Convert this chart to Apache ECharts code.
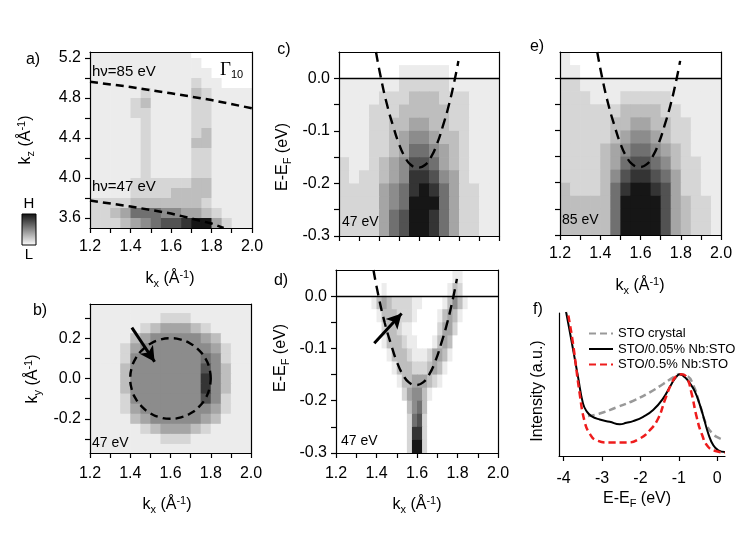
<!DOCTYPE html>
<html><head><meta charset="utf-8">
<script src="https://cdn.jsdelivr.net/npm/echarts@6/dist/echarts.min.js"></script>
<style>html,body{margin:0;padding:0;background:#fff}#c{width:747px;height:533px}</style>
</head><body><div id="c"></div>
<script>
// ---------------- data ----------------
const kx16 = [1.225,1.275,1.325,1.375,1.425,1.475,1.525,1.575,1.625,1.675,1.725,1.775,1.825,1.875,1.925,1.975];
const kx32 = [1.2125,1.2375,1.2625,1.2875,1.3125,1.3375,1.3625,1.3875,1.4125,1.4375,1.4625,1.4875,1.5125,1.5375,1.5625,1.5875,
              1.6125,1.6375,1.6625,1.6875,1.7125,1.7375,1.7625,1.7875,1.8125,1.8375,1.8625,1.8875,1.9125,1.9375,1.9625,1.9875];
const kzRowsA = [5.25,5.15,5.05,4.95,4.85,4.75,4.65,4.55,4.45,4.35,4.25,4.15,4.05,3.95,3.85,3.75,3.65,3.55];
const kyRowsB = [0.35,0.30,0.25,0.20,0.15,0.10,0.05,0.00,-0.05,-0.10,-0.15,-0.20,-0.25,-0.30,-0.35];
const eRows = [0.0375,0.0125,-0.0125,-0.0375,-0.0625,-0.0875,-0.1125,-0.1375,-0.1625,-0.1875,-0.2125,-0.2375,-0.2625,-0.2875];

// intensity levels 0 (white) .. 9 (black), one string per row, top row first
const mapA = [
 "1111111111000000","1111111111100000","1111111111110000","1111111111211000",
 "1111121111321111","1111231111221111","1111221111221111","1111121111221111",
 "1111121111231111","1111121111331111","1111121111221111","1111121111221111",
 "1111121111221111","1111222222331111","1111222233331111","2222333333321111",
 "2234666554432111","2223456778994211"];
const mapB = [
 "1111111111111111","1111111222111111","1111123444321111","1111345555543111",
 "1112455555554211","1112555555565211","1113555555575311","1113555555585311",
 "1113555555585311","1112555555575211","1112455555554211","1111345555543111",
 "1111123444321111","1111111222111111","1111111111111111"];
const mapC = [
 "0000000000000000","0000001111100000","1111112222211111","1111222333222111",
 "1112223333322111","1112233443322111","1112234554332111","1112234665432111",
 "2112345776432111","2122345887542111","2222456898642211","2222456999642211",
 "2222467998642211","2222467998642211"];
const mapD = [
 "00000000"+"00000000"+"00000001"+"10000000",
 "00000000"+"01000000"+"00000013"+"20000000",
 "00000001"+"34322221"+"10000135"+"31000000",
 "00000000"+"13332221"+"00001343"+"10000000",
 "00000000"+"02332110"+"00002442"+"00000000",
 "00000000"+"01333211"+"00013430"+"00000000",
 "00000000"+"00133321"+"11244310"+"00000000",
 "00000000"+"00013332"+"22343100"+"00000000",
 "00000000"+"00001334"+"44321000"+"00000000",
 "00000000"+"00000245"+"53100000"+"00000000",
 "00000000"+"00000035"+"63000000"+"00000000",
 "00000000"+"00000026"+"72000000"+"00000000",
 "00000000"+"00000028"+"82000000"+"00000000",
 "00000000"+"00000029"+"92000000"+"00000000"];
const mapE = [
 "1000000000000000","1100000000000000","2211111111111111","2221112222211111",
 "2222223333221111","2222233443322111","2222234554322111","2222345665432111",
 "2222346776532211","2222357887642211","3222368998742211","3333369999743221",
 "3333369999743221","3333369999743221"];

// dashed guide lines
const line85K = [1.2,1.4,1.6,1.8,2.0];
const line85Kz = [4.963,4.91,4.847,4.78,4.697];
const line47K = [1.2,1.4,1.6,1.8,1.86];
const line47Kz = [3.775,3.715,3.645,3.545,3.5];
const paraK = [1.385,1.41,1.44,1.47,1.50,1.53,1.56,1.595,1.63,1.66,1.69,1.72,1.75,1.78,1.797];
const paraE = [0.05,0.0,-0.05,-0.09,-0.125,-0.15,-0.165,-0.17,-0.165,-0.15,-0.125,-0.09,-0.05,0.0,0.033];
const circK = [1.8,1.793,1.773,1.741,1.7,1.652,1.6,1.548,1.5,1.459,1.427,1.407,1.4,1.407,1.427,1.459,1.5,1.548,1.6,1.652,1.7,1.741,1.773,1.793,1.8];
const circKy = [0,0.052,0.1,0.141,0.173,0.193,0.2,0.193,0.173,0.141,0.1,0.052,0,-0.052,-0.1,-0.141,-0.173,-0.193,-0.2,-0.193,-0.173,-0.141,-0.1,-0.052,0];
const arrowBK = [1.408,1.521], arrowBKy = [0.253,0.083];
const arrowDK = [1.389,1.524], arrowDE = [-0.09,-0.033];

// panel f spectra
const crystalE = [-3.365,-3.061,-2.626,-2.191,-1.757,-1.409,-1.148,-1.0,-0.8,-0.626,-0.452,-0.278,-0.104,0.07,0.1];
const crystalI = [0.279,0.297,0.340,0.386,0.445,0.504,0.550,0.571,0.562,0.496,0.356,0.215,0.152,0.122,0.118];
const nb005E = [-3.97,-3.93,-3.8,-3.626,-3.496,-3.391,-3.278,-3.061,-2.8,-2.539,-2.365,-2.191,-1.93,-1.67,-1.409,-1.191,-1.061,-0.974,-0.843,-0.713,-0.583,-0.452,-0.348,-0.235,-0.104,0.026,0.2];
const nb005I = [1.06,1.0,0.813,0.555,0.368,0.309,0.279,0.255,0.239,0.222,0.232,0.244,0.274,0.321,0.403,0.504,0.555,0.571,0.550,0.508,0.450,0.356,0.262,0.157,0.075,0.040,0.028];
const nb05E = [-3.92,-3.887,-3.757,-3.583,-3.452,-3.322,-3.148,-2.8,-2.365,-2.017,-1.757,-1.539,-1.365,-1.191,-1.061,-0.93,-0.8,-0.67,-0.539,-0.409,-0.235,-0.017,0.2];
const nb05I = [1.06,1.0,0.789,0.438,0.239,0.157,0.110,0.094,0.094,0.122,0.180,0.262,0.391,0.508,0.560,0.571,0.550,0.438,0.274,0.157,0.063,0.033,0.023];

// tick values
const mapXTicks = [1.2,1.3,1.4,1.5,1.6,1.7,1.8,1.9,2.0];
const mapXLabels = [1.2,1.4,1.6,1.8,2.0];
const aYTicks = [3.6,3.8,4.0,4.2,4.4,4.6,4.8,5.0,5.2];
const aYLabels = [3.6,4.0,4.4,4.8,5.2];
const bYTicks = [-0.3,-0.2,-0.1,0,0.1,0.2,0.3];
const bYLabels = [-0.2,0,0.2];
const eYTicks = [-0.3,-0.25,-0.2,-0.15,-0.1,-0.05,0];
const eYLabels = [-0.3,-0.2,-0.1,0];
const fXTicks = [-4,-3,-2,-1,0];

// ---------------- chart ----------------
const F = '"Liberation Sans", Arial, sans-serif';
const LEVELS = [255,236,214,190,165,140,112,82,52,22];
const zip = (a,b) => a.map((v,i) => [v, b[i]]);
function cells(xs, ys, rows){ const out=[]; rows.forEach((r,j)=>{ for(let i=0;i<xs.length;i++) out.push([xs[i], ys[j], +r[i]]); }); return out; }
function heat(idx, xs, ys, rows){
  const dx = xs[1]-xs[0], dy = Math.abs(ys[1]-ys[0]);
  return {type:'custom', xAxisIndex:idx, yAxisIndex:idx, z:1, silent:true, animation:false,
    encode:{x:0,y:1}, data:cells(xs,ys,rows),
    renderItem:function(params, api){
      const x=api.value(0), y=api.value(1), v=api.value(2);
      const p0=api.coord([x-dx/2, y+dy/2]), p1=api.coord([x+dx/2, y-dy/2]);
      const cs=params.coordSys;
      const rect=echarts.graphic.clipRectByRect({x:p0[0],y:p0[1],width:p1[0]-p0[0]+0.7,height:p1[1]-p0[1]+0.7},{x:cs.x,y:cs.y,width:cs.width,height:cs.height});
      if(!rect) return;
      const g=LEVELS[v];
      return {type:'rect', shape:rect, style:{fill:'rgb('+g+','+g+','+g+')'}};
    }};
}
const fmt1 = v => (+v).toFixed(1);
function xAx(g,min,max,ticks,labels,margin,f){
  return {type:'value',gridIndex:g,min,max,position:'bottom',z:10,
    axisLine:{show:true,onZero:false,lineStyle:{color:'#000',width:1.2}},
    axisTick:{show:true,inside:false,length:5,customValues:ticks,lineStyle:{color:'#000',width:1.2}},
    axisLabel:{show:labels.length>0,customValues:labels.length?labels:undefined,margin,fontSize:16,fontFamily:F,color:'#000',formatter:f||fmt1},
    splitLine:{show:false}};
}
function yAx(g,min,max,ticks,labels,f){
  return {type:'value',gridIndex:g,min,max,position:'left',z:10,
    axisLine:{show:true,onZero:false,lineStyle:{color:'#000',width:1.2}},
    axisTick:{show:ticks.length>0,inside:false,length:5,customValues:ticks.length?ticks:undefined,lineStyle:{color:'#000',width:1.2}},
    axisLabel:{show:labels.length>0,customValues:labels.length?labels:undefined,margin:9,fontSize:16,fontFamily:F,color:'#000',formatter:f||fmt1},
    splitLine:{show:false}};
}
function frameX(g){ return {type:'value',gridIndex:g,position:'top',min:0,max:1,z:10,axisLine:{show:true,onZero:false,lineStyle:{color:'#000',width:1.2}},axisTick:{show:false},axisLabel:{show:false},splitLine:{show:false}}; }
function frameY(g){ return {type:'value',gridIndex:g,position:'right',min:0,max:1,z:10,axisLine:{show:true,onZero:false,lineStyle:{color:'#000',width:1.2}},axisTick:{show:false},axisLabel:{show:false},splitLine:{show:false}}; }

const dashLine = (idx, data, extra) => Object.assign({type:'line', xAxisIndex:idx, yAxisIndex:idx, data, symbol:'none', z:3, silent:true, animation:false,
  lineStyle:{color:'#000', width:2.4, type:[8,5]}}, extra||{});
const fermi = {silent:true, symbol:'none', label:{show:false}, animation:false, lineStyle:{color:'#000', width:1.4, type:'solid'}, data:[{yAxis:0}]};
function arrow(idx, pts){
  return {type:'line', xAxisIndex:idx, yAxisIndex:idx, data:pts, symbol:'none', silent:true, z:4, animation:false, lineStyle:{opacity:0},
    markLine:{silent:true, symbol:['none','arrow'], symbolSize:[12,15], label:{show:false}, animation:false,
      lineStyle:{color:'#000', width:3, type:'solid'}, data:[[{coord:pts[0]},{coord:pts[1]}]]}};
}

const grids = [
  {left:90, top:52, width:162, height:176},
  {left:90, top:304, width:161, height:149},
  {left:339, top:52, width:160, height:184},
  {left:336, top:270, width:162, height:183},
  {left:560, top:52, width:161, height:183},
  {left:559, top:313, width:166, height:143}
];

const xAxes = [
  xAx(0,1.2,2.0,mapXTicks,mapXLabels,11),
  xAx(1,1.2,2.0,mapXTicks,mapXLabels,13),
  xAx(2,1.2,2.0,mapXTicks,[],13),
  xAx(3,1.2,2.0,mapXTicks,mapXLabels,13),
  xAx(4,1.2,2.0,mapXTicks,mapXLabels,11),
  xAx(5,-4.12,0.2,fXTicks,fXTicks,15,v=>String(Math.round(v))),
  frameX(0),frameX(1),frameX(2),frameX(3),frameX(4)
];
const yAxes = [
  yAx(0,3.5,5.26,aYTicks,aYLabels),
  yAx(1,-0.37,0.37,bYTicks,bYLabels),
  yAx(2,-0.3,0.05,eYTicks,eYLabels),
  yAx(3,-0.3,0.05,eYTicks,eYLabels),
  yAx(4,-0.3,0.05,eYTicks,[]),
  yAx(5,0,1,[],[]),
  frameY(0),frameY(1),frameY(2),frameY(3),frameY(4)
];

const spec = (name, data, color, width, type, z) => ({type:'line', name, xAxisIndex:5, yAxisIndex:5, data, symbol:'none', showSymbol:false,
  smooth:true, z, animation:false, itemStyle:{color, opacity:0}, lineStyle:{color, width, type}});

const series = [
  heat(0,kx16,kzRowsA,mapA),
  heat(1,kx16,kyRowsB,mapB),
  heat(2,kx16,eRows,mapC),
  heat(3,kx32,eRows,mapD),
  heat(4,kx16,eRows,mapE),
  dashLine(0,zip(line85K,line85Kz),{lineStyle:{color:'#000',width:2.5,type:[8,5]}}),
  dashLine(0,zip(line47K,line47Kz),{lineStyle:{color:'#000',width:2.5,type:[8,5]}}),
  dashLine(1,zip(circK,circKy),{smooth:true}),
  arrow(1,zip(arrowBK,arrowBKy)),
  dashLine(2,zip(paraK,paraE),{smooth:true,markLine:fermi,lineStyle:{color:'#000',width:2.4,type:[10,6]}}),
  dashLine(3,zip(paraK,paraE),{smooth:true,markLine:fermi,lineStyle:{color:'#000',width:2.4,type:[10,6]}}),
  arrow(3,zip(arrowDK,arrowDE)),
  dashLine(4,zip(paraK,paraE),{smooth:true,markLine:fermi,lineStyle:{color:'#000',width:2.4,type:[10,6]}}),
  spec('STO crystal', zip(crystalE,crystalI), '#999', 2.5, [7,4], 3),
  spec('STO/0.05% Nb:STO', zip(nb005E,nb005I), '#000', 2, 'solid', 4),
  spec('STO/0.5% Nb:STO', zip(nb05E,nb05I), '#ee1c1c', 2.5, [7,4], 5)
];

const R = {
  m:{fontSize:16, fontFamily:F, fill:'#000', color:'#000', lineHeight:20},
  s:{fontSize:11, fontFamily:F, fill:'#000', color:'#000', verticalAlign:'bottom', lineHeight:6},
  p:{fontSize:11, fontFamily:F, fill:'#000', color:'#000', verticalAlign:'top', lineHeight:6}
};
const kT = sub => '{m|k}{s|'+sub+'}{m| (Å}{p|-1}{m|)}';
const eT = '{m|E-E}{s|F}{m| (eV)}';
function txt(x,y,text,size,extra){ return Object.assign({type:'text', x, y, z:100, silent:true,
  style:{text, fill:'#000', font:size+'px '+F, align:'center', verticalAlign:'middle'}}, extra||{}); }
function ltxt(x,y,text,size){ return {type:'text', x, y, z:100, silent:true,
  style:{text, fill:'#000', font:size+'px '+F, align:'left', verticalAlign:'middle'}}; }
function rich(x,y,text,rot){ return {type:'text', x, y, z:100, silent:true, rotation:rot||0,
  style:{text, rich:R, fill:'#000', font:'16px '+F, align:'center', verticalAlign:'middle'}}; }

const graphics = [
  txt(33,60,'a)',16), txt(40,311,'b)',16), txt(284,50,'c)',16), txt(281,281,'d)',16), txt(537,47,'e)',16), txt(538,310,'f)',16),
  rich(26,140,kT('z'),Math.PI/2), rich(170,279,kT('x')),
  rich(33,379,kT('y'),Math.PI/2), rich(167,505,kT('x')),
  rich(283,157,eT,Math.PI/2), rich(281,358,eT,Math.PI/2), rich(417,505,kT('x')),
  rich(640,286,kT('x')),
  rich(637,499,eT), txt(538,391,'Intensity (a.u.)',16,{rotation:Math.PI/2}),
  ltxt(92,72,'hν=85 eV',15), ltxt(92,187,'hν=47 eV',15),
  {type:'text', x:220, y:70, z:100, silent:true, style:{text:'{g|Γ}{s|10}', align:'left', verticalAlign:'middle', rich:{
     g:{fontSize:19, fontFamily:'"Liberation Serif", serif', fill:'#000', lineHeight:20},
     s:{fontSize:11, fontFamily:F, fill:'#000', verticalAlign:'bottom', lineHeight:6}}}},
  ltxt(342,222,'47 eV',14), ltxt(562,220,'85 eV',14), ltxt(92,443,'47 eV',14), ltxt(341,441,'47 eV',14),
  txt(29,204,'H',15), txt(29,255,'L',15),
  {type:'rect', z:100, silent:true, shape:{x:22,y:214,width:14,height:31},
   style:{fill:new echarts.graphic.LinearGradient(0,0,0,1,[{offset:0,color:'#111'},{offset:1,color:'#fff'}]), stroke:'#000', lineWidth:1}}
];

const chart = echarts.init(document.getElementById('c'), null, {renderer:'canvas'});
chart.setOption({
  animation:false, backgroundColor:'#fff',
  grid:grids, xAxis:xAxes, yAxis:yAxes, series,
  legend:{left:583, top:322, orient:'vertical', itemWidth:24, itemHeight:12, itemGap:2.5, selectedMode:false,
    itemStyle:{opacity:0},
    textStyle:{fontSize:13, fontFamily:F, color:'#000'},
    data:['STO crystal','STO/0.05% Nb:STO','STO/0.5% Nb:STO']},
  graphic:{elements:graphics}
});
</script></body></html>
